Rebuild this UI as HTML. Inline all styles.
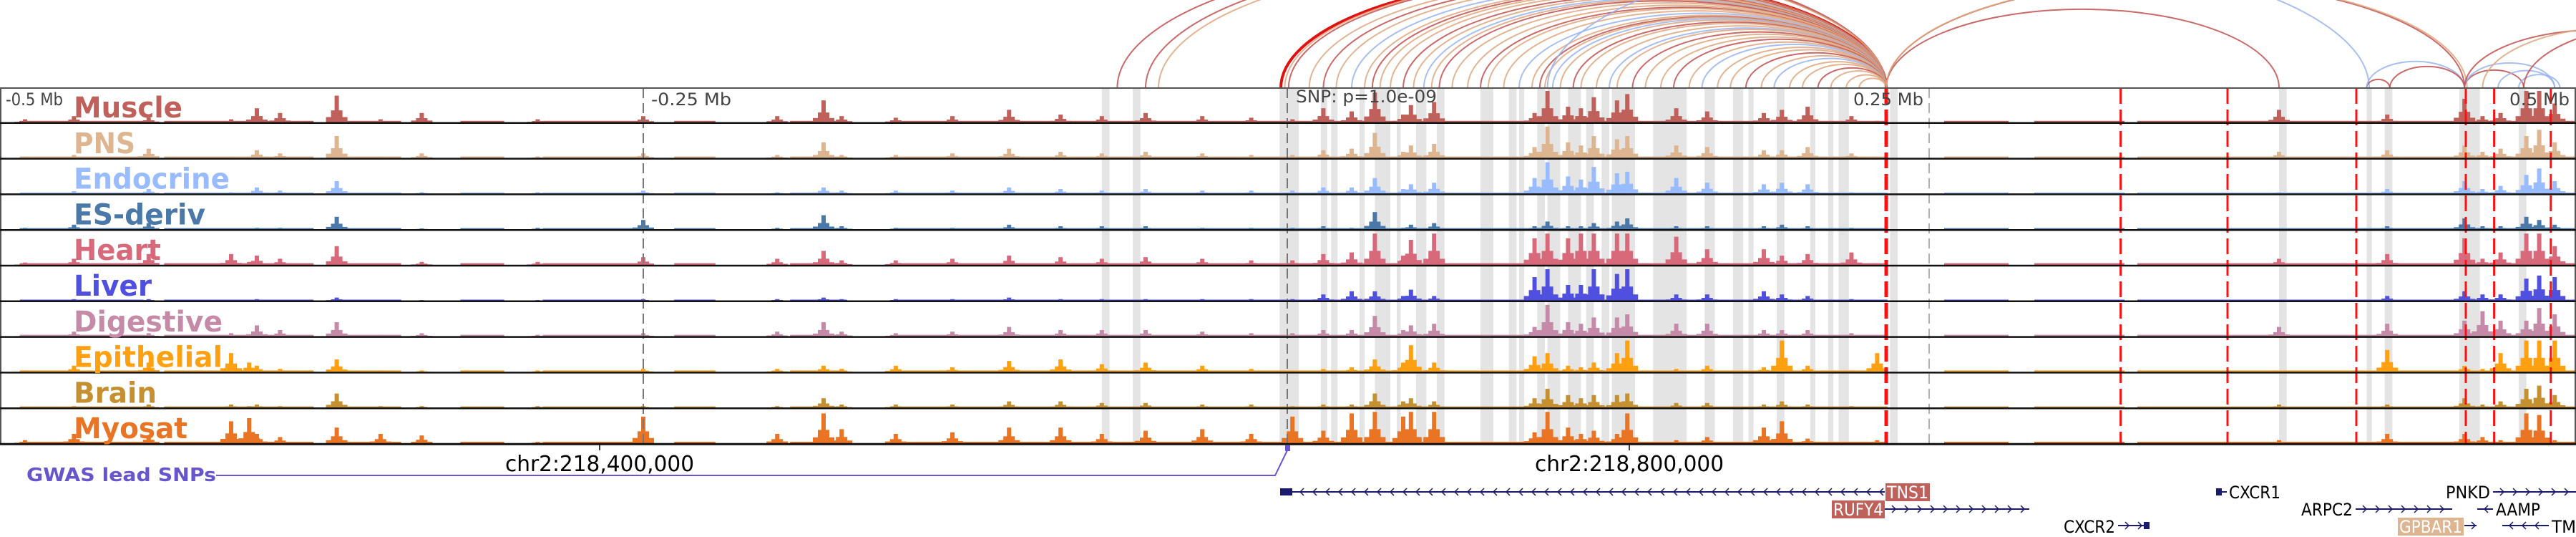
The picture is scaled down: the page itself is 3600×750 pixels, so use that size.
<!DOCTYPE html>
<html><head><meta charset="utf-8"><style>
html,body{margin:0;padding:0;background:#fff;}
svg{display:block;font-family:"DejaVu Sans","Liberation Sans",sans-serif;}
</style></head><body>
<svg id="chart" width="3600" height="750" viewBox="0 0 3600 750" xmlns="http://www.w3.org/2000/svg">
<g id="arcs"></g>
<g id="bands"></g>
<g id="tracks"></g>
<g id="vlines"></g>
<g id="frame"></g>
<g id="labels"></g>
<g fill="#444" font-size="24">
<text x="8" y="147" textLength="80" lengthAdjust="spacingAndGlyphs">-0.5 Mb</text>
<text x="910" y="147" textLength="112" lengthAdjust="spacingAndGlyphs">-0.25 Mb</text>
<text x="1811" y="143" textLength="197" lengthAdjust="spacingAndGlyphs">SNP: p=1.0e-09</text>
<text x="2590" y="147" textLength="98" lengthAdjust="spacingAndGlyphs">0.25 Mb</text>
<text x="3507" y="147" textLength="84" lengthAdjust="spacingAndGlyphs">0.5 Mb</text>
</g>
<g>
<line x1="838" y1="621" x2="838" y2="629" stroke="#000" stroke-width="1.5"/>
<line x1="2277" y1="621" x2="2277" y2="629" stroke="#000" stroke-width="1.5"/>
<text x="838" y="658" font-size="30" text-anchor="middle" textLength="264" lengthAdjust="spacingAndGlyphs">chr2:218,400,000</text>
<text x="2277" y="658" font-size="30" text-anchor="middle" textLength="264" lengthAdjust="spacingAndGlyphs">chr2:218,800,000</text>
</g>
<g>
<text x="37" y="672" font-size="26" font-weight="bold" fill="#6655cc" textLength="265" lengthAdjust="spacingAndGlyphs">GWAS lead SNPs</text>
<polyline points="302,664 1782,664 1799,629" fill="none" stroke="#6655cc" stroke-width="2"/>
<rect x="1796" y="622" width="7" height="8" fill="#6655cc"/>
</g>
<g id="genes" font-size="24"></g>
</svg>
<script>
const NS="http://www.w3.org/2000/svg";
function mk(tag,attrs,parent){const e=document.createElementNS(NS,tag);for(const k in attrs)e.setAttribute(k,attrs[k]);parent.appendChild(e);return e;}
// ---------- data ----------
const trackNames=["Muscle","PNS","Endocrine","ES-deriv","Heart","Liver","Digestive","Epithelial","Brain","Myosat"];
const trackColors=["#c0605a","#deb591","#99bbff","#4a78a8","#d8697a","#5050e0","#c48aa8","#ffa010","#c49030","#e87424"];
const labelWidths=[152,86,218,184,122,109,208,208,116,159];
const baseLevel=[0.05,0.05,0.04,0.04,0.06,0.03,0.05,0.05,0.04,0.05];
// peak positions in kb relative to lead SNP
const peakKb=[-490,-471,-442,-410,-403,-400,-391,-369,-352,-336,-291,-250,-198,-180,-173,-152,-130,-108,-88,-72,-55,-33,-14,2,14,25,34,45,48,57,96,101,109,114,119,128,132,151,163,185,192,202,219,229,385,427,457,464,471,481,486,492];
// heights per peak (0..1) per track: Mu,PNS,End,ES,He,Li,Di,Ep,Br,My
const peakVals=[
[.1,.05,.03,.05,.08,.02,.05,.05,.03,.1],[.2,.1,.08,.15,.2,.05,.15,.2,.05,.3],[.15,.3,.15,.2,.35,.05,.1,.3,.1,.25],
[.1,.05,.05,.03,.35,.03,.1,.6,.1,.7],[.05,.03,.03,.02,.1,.02,.05,.3,.05,.8],[.45,.25,.2,.05,.3,.05,.35,.2,.1,.3],
[.3,.15,.1,.05,.2,.03,.2,.1,.05,.2],[.85,.7,.4,.4,.6,.1,.45,.4,.45,.5],[.1,.05,.03,.02,.05,.02,.05,.05,.05,.3],
[.3,.15,.05,.03,.1,.02,.1,.05,.05,.25],[.1,.05,.05,.05,.1,.02,.05,.05,.05,.05],[.2,.15,.1,.3,.25,.05,.1,.1,.05,.85],
[.2,.1,.05,.05,.2,.05,.15,.1,.05,.3],[.7,.5,.2,.45,.45,.1,.45,.2,.3,.95],[.2,.1,.1,.1,.15,.05,.15,.1,.1,.45],
[.15,.1,.1,.05,.15,.05,.1,.2,.1,.3],[.2,.15,.1,.05,.2,.05,.15,.15,.1,.35],[.4,.3,.2,.15,.3,.1,.3,.35,.2,.5],
[.25,.2,.15,.1,.25,.05,.2,.4,.2,.5],[.2,.15,.1,.1,.2,.05,.2,.25,.15,.3],[.3,.2,.15,.1,.25,.05,.2,.3,.15,.4],
[.2,.15,.1,.05,.2,.05,.15,.2,.1,.45],[.15,.1,.1,.05,.15,.05,.1,.1,.1,.3],[.1,.1,.1,.05,.15,.05,.1,.05,.05,.85],
[.45,.25,.2,.1,.35,.2,.2,.1,.1,.4],[.35,.3,.2,.05,.4,.3,.2,.15,.1,.95],[.95,.8,.5,.55,1,.3,.65,.4,.45,1],
[.25,.2,.15,.05,.3,.15,.2,.3,.2,.85],[.55,.4,.3,.15,.8,.35,.35,.85,.3,1],[.65,.45,.35,.2,1,.15,.4,.3,.2,1],
[.3,.35,.5,.1,.85,.75,.3,.5,.3,.35],[1,1,1,.25,1,1,1,.6,.6,1],[.5,.5,.55,.1,.85,.5,.45,.2,.4,.5],
[.45,.4,.45,.1,1,.5,.4,.15,.3,.3],[.8,.7,.85,.2,1,1,.6,.3,.4,.4],[.7,.6,.65,.25,1,.85,.6,.6,.4,.3],
[.9,.7,.7,.35,1,1,.7,1,.45,.95],[.45,.4,.5,.1,.9,.2,.4,.1,.15,.1],[.35,.35,.35,.1,.5,.2,.4,.2,.15,.2],
[.3,.25,.3,.1,.5,.3,.2,.15,.1,.5],[.4,.25,.35,.15,.3,.2,.2,1,.2,.7],[.5,.35,.3,.1,.35,.15,.2,.2,.1,.15],
[.2,.15,.05,.05,.4,.05,.1,.05,.05,.05],[.05,.05,.03,.02,.05,.02,.03,.6,.03,.1],[.4,.2,.05,.02,.2,.02,.3,.05,.1,.1],
[.25,.25,.15,.1,.35,.15,.4,.7,.1,.3],[.75,.4,.4,.35,.85,.3,.5,.2,.3,.3],[.2,.2,.15,.1,.2,.2,.8,.1,.1,.2],
[.3,.3,.25,.1,.4,.2,.5,.6,.2,.1],[1,.7,.6,.4,1,.7,.5,1,.6,.95],[1,.9,.8,.3,1,.8,.9,1,.7,.9],[.6,.5,.4,.15,.6,.75,.7,1,.4,.1]];
// regions with baseline signal [startKb,endKb]
const activeRegions=[[-492,-444],[-436,-378],[-367,-344],[-321,-304],[-289,-250],[-238,-222],[-193,-171],[-152,233],[255,280],[290,325],[330,500]];
// highlighted regions [startKb,endKb]
const bandKb=[[-72,-69],[-60,-57],[-3,4.5],[13,15.5],[17,19.5],[28,30],[34,40],[42.5,44],[50,54],[58,61],[75,80],[86,89],[90,92],[97,100],[101,106],[109,114],[116,119],[122,125],[126,135],[142,155],[162,166],[173,177],[179,181],[190,193],[203,205],[210,212],[214,218],[234,237],[385,388],[419,421],[426,429],[455,463],[478,481],[502,506],[521,525],[534,544]];
// red dashed marker positions (kb)
const redMarkKb=[232.5,323.5,365,415,457.5,468.5,490.5];
// arcs: [leftKb,rightKb,colorIndex]  0=red-brown 1=tan 2=blue 3=bright red
const arcLeft=[-2.5,-1,0.5,-66,-55,-50,8.5,14,19,25,30,33,36,40,45,49,53,56,59,64,70,75,78,84,90,95,98,100,103,106,111,114,120,125,128,134,139,145,150,156,161,167,172,178,184,189,195,200,206,211,217,222];
const arcRight=[232.5,232.5,232.5,232.5,232.5,232.5,232.5,232.5,232.5,232.5,232.5,232.5,232.5,232.5,232.5,232.5,232.5,232.5,232.5,232.5,232.5,232.5,232.5,232.5,232.5,232.5,232.5,232.5,232.5,232.5,232.5,232.5,232.5,232.5,232.5,232.5,232.5,232.5,232.5,232.5,232.5,232.5,232.5,232.5,232.5,232.5,232.5,232.5,232.5,232.5,232.5,232.5];
const arcColorIdx=[3,1,0,0,0,1,1,0,1,2,1,0,1,1,0,1,2,1,0,1,1,0,1,1,2,1,0,1,2,1,0,1,1,2,1,0,1,1,0,1,2,1,1,0,1,2,1,1,0,1,1,1];
const extraArcLeft=[232.5,101,232.5,232.5,419,419,428,457,457,470,478,457,464,480];
const extraArcRight=[385,420,457,458,428,457,457,480,492,492,494,560,575,600];
const extraArcColorIdx=[0,2,0,1,0,2,0,0,2,2,2,0,1,0];
const arcPalette=["#c0504d","#dfa77f","#99b4ee","#e01010"];
// ---------- scales ----------
const x=kb=>1799+kb*3.6;
const trackTop=i=>123+i*49.8;
const trackH=44;
// arcs
const arcG=document.getElementById('arcs');
function drawArc(l,r,ci,name){
  const x1=x(l),x2=x(r),rx=(x2-x1)/2,ry=1.38*Math.pow(rx,0.78);
  const p=mk('path',{d:`M${x1},123 A${rx},${ry} 0 0 1 ${x2},123`,fill:'none',stroke:arcPalette[ci],'stroke-width':ci===3?4:2,opacity:ci===3?1:0.85},arcG);
  
  
}
arcLeft.forEach((l,i)=>drawArc(l,arcRight[i],arcColorIdx[i],'arc-to-tns1'));
extraArcLeft.forEach((l,i)=>drawArc(l,extraArcRight[i],extraArcColorIdx[i],'arc-right-cluster'));
// bands
const bandG=document.getElementById('bands');
bandKb.forEach(b=>{
  const r=mk('rect',{x:x(b[0]),y:124,width:Math.max(3,x(b[1])-x(b[0])),height:497,fill:'#e4e4e4'},bandG);
  
  
});
// tracks
const trG=document.getElementById('tracks');
trackNames.forEach((nm,i)=>{
  const g=mk('g',{fill:trackColors[i]},trG);
  
  
  const base=trackTop(i)+48;
  activeRegions.forEach(a=>{
    const h=Math.max(1.5,baseLevel[i]*trackH);
    mk('rect',{x:x(a[0]),y:base-h,width:x(a[1])-x(a[0]),height:h},g);
  });
  peakKb.forEach((kb,j)=>{
    const v=peakVals[j][i],h=v*trackH,cx=x(kb);
    const s1=mk('rect',{x:cx-15,y:base-h*0.2,width:30,height:h*0.2},g);
    const s2=mk('rect',{x:cx-8,y:base-h*0.45,width:16,height:h*0.45},g);
    const b=mk('rect',{x:cx-3,y:base-h,width:6,height:h},g);
    
    
  });
});
// markers
const vG=document.getElementById('vlines');
[-250,0].forEach(kb=>{mk('line',{x1:x(kb),y1:123,x2:x(kb),y2:621,stroke:'#777','stroke-width':2,'stroke-dasharray':'14 7'},vG);});
mk('line',{x1:2696,y1:123,x2:2696,y2:621,stroke:'#999','stroke-width':1.5,'stroke-dasharray':'14 7'},vG);
redMarkKb.forEach(kb=>{
  const l=mk('line',{x1:x(kb),y1:123,x2:x(kb),y2:621,stroke:'#ff1010','stroke-width':kb===232.5?5:3,'stroke-dasharray':'22 8'},vG);
  
  
});
// frame
const fG=document.getElementById('frame');
mk('rect',{x:1,y:123,width:3598,height:498,fill:'none',stroke:'#555','stroke-width':2},fG);
for(let i=1;i<=10;i++){mk('line',{x1:0,y1:trackTop(i)-1,x2:3600,y2:trackTop(i)-1,stroke:'#111','stroke-width':2.5},fG);}
// labels
const lG=document.getElementById('labels');
trackNames.forEach((nm,i)=>{
  const t=mk('text',{x:103,y:trackTop(i)+41,'font-size':40,'font-weight':'bold',fill:trackColors[i],textLength:labelWidths[i],lengthAdjust:'spacingAndGlyphs'},lG);
  t.textContent=nm;
  
  
});
// genes
const gG=document.getElementById('genes');
function gene(x1,x2,y,dir,name){
  const g=mk('g',{},gG);
  
  
  mk('line',{x1:x1,y1:y,x2:x2,y2:y,stroke:'#1a1a6e','stroke-width':2},g);
  for(let a=x1+10;a<x2-6;a+=18){
    const d=dir<0?`M${a+5},${y-5} L${a},${y} L${a+5},${y+5}`:`M${a},${y-5} L${a+5},${y} L${a},${y+5}`;
    mk('path',{d:d,fill:'none',stroke:'#1a1a6e','stroke-width':1.5},g);
  }
  return g;
}
function label(x0,y,txt,w,box,anchor){
  if(box){const r=mk('rect',{x:x0-2,y:y-21,width:w+4,height:25,fill:box},gG);}
  const t=mk('text',{x:x0,y:y,fill:box?'#fff':'#000','font-size':24,textLength:w,lengthAdjust:'spacingAndGlyphs'},gG);
  t.textContent=txt;
  
  
}
gene(1789,2634,687,-1,'TNS1');mk('rect',{x:1789,y:682,width:17,height:10,fill:'#1a1a6e'},gG);
label(2637,696,'TNS1',58,'#c0605a');
gene(2634,2836,711,1,'RUFY4');label(2562,720,'RUFY4',70,'#c0605a');
gene(2960,3004,734,1,'CXCR2');mk('rect',{x:2996,y:729,width:8,height:10,fill:'#1a1a6e'},gG);label(2884,744,'CXCR2',72,null);
mk('rect',{x:3097,y:682,width:8,height:10,fill:'#1a1a6e'},gG);mk('line',{x1:3105,y1:687,x2:3112,y2:687,stroke:'#1a1a6e','stroke-width':2},gG);label(3115,696,'CXCR1',72,null);
gene(3292,3427,711,1,'ARPC2');label(3216,720,'ARPC2',72,null);
gene(3484,3600,687,1,'PNKD');label(3418,696,'PNKD',62,null);
gene(3462,3484,711,-1,'AAMP');label(3488,720,'AAMP',62,null);
gene(3444,3461,734,1,'GPBAR1');label(3353,744,'GPBAR1',88,'#deb591');
gene(3497,3562,734,-1,'TM');label(3566,744,'TM',34,null);
</script>
</body></html>
